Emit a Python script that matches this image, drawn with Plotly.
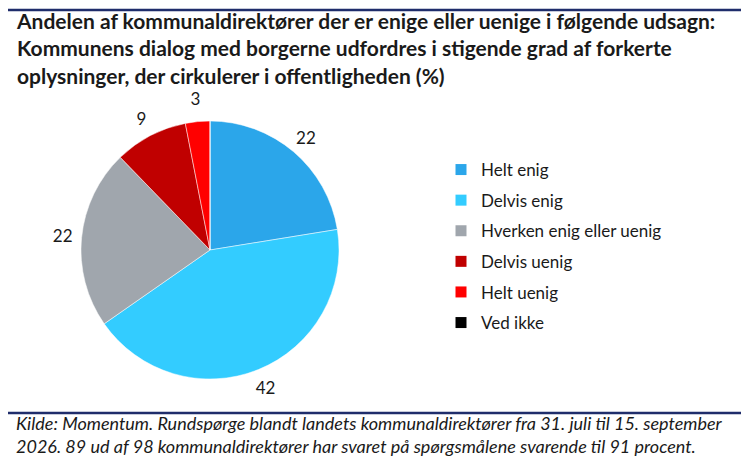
import plotly.graph_objects as go

# data
labels = ["Helt enig", "Delvis enig", "Hverken enig eller uenig",
          "Delvis uenig", "Helt uenig", "Ved ikke"]
values = [22, 42, 22, 9, 3, 0]
colors = ["#2BA6EA", "#33CCFF", "#A0A6AD", "#C00000", "#FF0000", "#000000"]

title_lines = [
    "Andelen af kommunaldirektører der er enige eller uenige i følgende udsagn:",
    "Kommunens dialog med borgerne udfordres i stigende grad af forkerte",
    "oplysninger, der cirkulerer i offentligheden (%)",
]
source_lines = [
    "Kilde: Momentum. Rundspørge blandt landets kommunaldirektører fra 31. juli til 15. september",
    "2026. 89 ud af 98 kommunaldirektører har svaret på spørgsmålene svarende til 91 procent.",
]

W, H = 749, 462
FONT = "Lato"
TXT = "#1a1a1a"

# pie geometry in pixels (center and radius), label ring outside
cx, cy, r = 202, 242, 129
r_lab = 167

text = [str(v) if v > 0 else "" for v in values]

fig = go.Figure()

# the pie itself
fig.add_trace(go.Pie(
    labels=labels, values=values,
    textinfo="none",
    marker=dict(colors=colors, line=dict(color="white", width=0.5)),
    sort=False, direction="clockwise", rotation=0,
    domain=dict(x=[(cx - r) / W, (cx + r) / W], y=[1 - (cy + r) / H, 1 - (cy - r) / H]),
    showlegend=False,
))

# transparent ring around the pie carrying the value labels
fig.add_trace(go.Pie(
    labels=labels, values=values,
    text=text, textinfo="text", textposition="inside",
    insidetextorientation="horizontal",
    textfont=dict(family=FONT, size=17, color=TXT),
    marker=dict(colors=["rgba(0,0,0,0)"] * len(values)),
    hole=r / r_lab,
    sort=False, direction="clockwise", rotation=0,
    domain=dict(x=[(cx - r_lab) / W, (cx + r_lab) / W],
                y=[1 - (cy + r_lab) / H, 1 - (cy - r_lab) / H]),
    showlegend=False, hoverinfo="skip",
))

# legend entries
for lab, col in zip(labels, colors):
    fig.add_trace(go.Scatter(
        x=[None], y=[None], mode="markers", name=lab, legendgroup=lab,
        marker=dict(symbol="square", size=11, color=col),
    ))

fig.update_layout(
    width=W, height=H,
    margin=dict(l=0, r=0, t=0, b=0),
    paper_bgcolor="white",
    plot_bgcolor="white",
    font=dict(family=FONT, color=TXT),
    xaxis=dict(visible=False),
    yaxis=dict(visible=False),
    legend=dict(
        x=433 / W, y=1 - 144 / H, xanchor="left", yanchor="top",
        font=dict(family=FONT, size=17, color=TXT),
        itemwidth=30,
        tracegroupgap=5.5,
        traceorder="grouped",
    ),
)

# title and source text
fig.add_annotation(
    text="<br>".join(title_lines), x=6 / W, y=1 + 2 / H,
    xref="paper", yref="paper", xanchor="left", yanchor="top",
    align="left", showarrow=False,
    font=dict(family=FONT, size=21, color=TXT, weight="bold"),
)
fig.add_annotation(
    text="<br>".join(source_lines), x=6 / W, y=1 - 402 / H,
    xref="paper", yref="paper", xanchor="left", yanchor="top",
    align="left", showarrow=False,
    font=dict(family=FONT, size=18, color=TXT, style="italic"),
)

# separator lines
for yy in [2, 405]:
    fig.add_shape(type="line", xref="paper", yref="paper",
                  x0=0, x1=747 / W, y0=1 - yy / H, y1=1 - yy / H,
                  line=dict(color="#1F2D6B", width=2.5))

fig.write_html("out.html")
